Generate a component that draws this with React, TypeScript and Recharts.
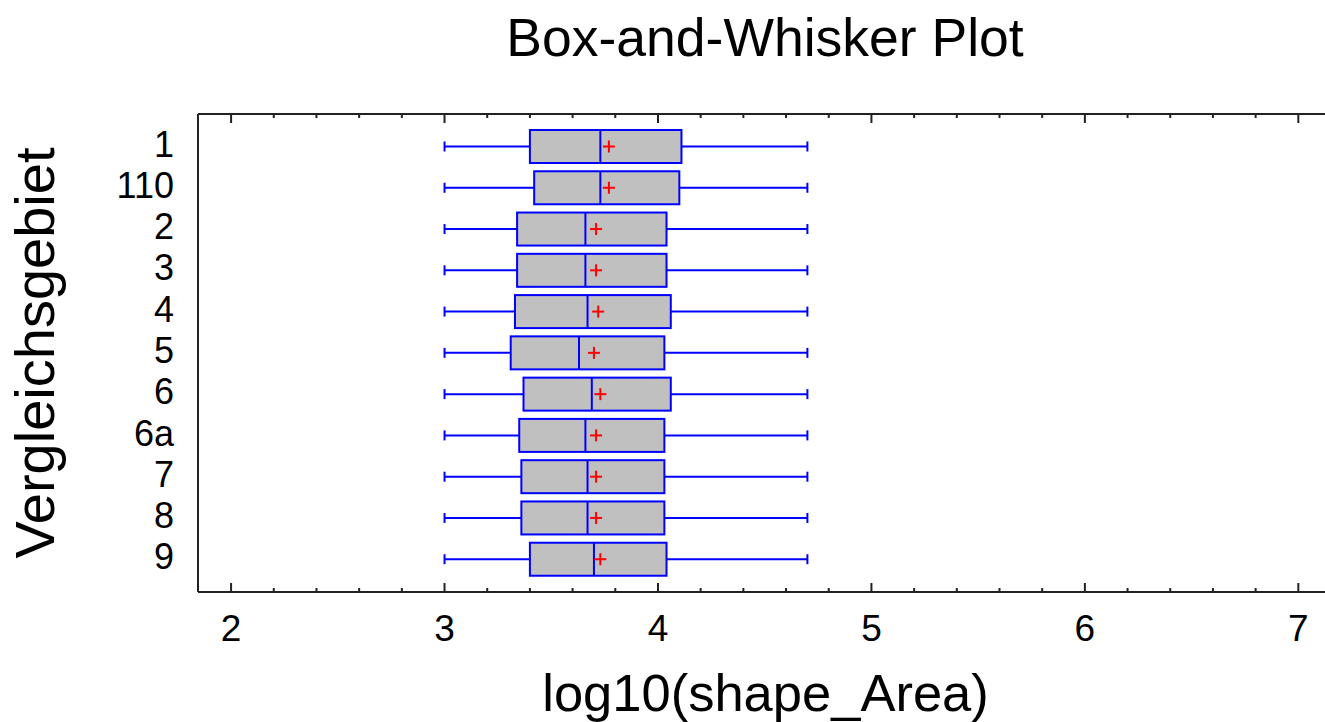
import React from "react";
import { Bar, BarChart, XAxis, YAxis } from "recharts";

// groups top to bottom
const groups = ["1", "110", "2", "3", "4", "5", "6", "6a", "7", "8", "9"];
const whiskerLow = [3.0, 3.0, 3.0, 3.0, 3.0, 3.0, 3.0, 3.0, 3.0, 3.0, 3.0];
const whiskerHigh = [4.7, 4.7, 4.7, 4.7, 4.7, 4.7, 4.7, 4.7, 4.7, 4.7, 4.7];
const q1 = [3.4, 3.42, 3.34, 3.34, 3.33, 3.31, 3.37, 3.35, 3.36, 3.36, 3.4];
const median = [3.73, 3.73, 3.66, 3.66, 3.67, 3.63, 3.69, 3.66, 3.67, 3.67, 3.7];
const q3 = [4.11, 4.1, 4.04, 4.04, 4.06, 4.03, 4.06, 4.03, 4.03, 4.03, 4.04];
const mean = [3.77, 3.77, 3.71, 3.71, 3.72, 3.7, 3.73, 3.71, 3.71, 3.71, 3.73];

const xTicks = [
  2, 2.2, 2.4, 2.6, 2.8, 3, 3.2, 3.4, 3.6, 3.8, 4, 4.2, 4.4, 4.6, 4.8, 5, 5.2,
  5.4, 5.6, 5.8, 6, 6.2, 6.4, 6.6, 6.8, 7,
];
const xDomain = [1.845, 7.125];

const data = groups.map((group, i) => ({
  group,
  lo: whiskerLow[i],
  hi: whiskerHigh[i],
  q1: q1[i],
  median: median[i],
  q3: q3[i],
  mean: mean[i],
}));

const FONT = "'Liberation Sans', Arial, sans-serif";
const FRAME = "#222";
const BLUE = "#0000ff";

const isMajor = (v: number) => Math.abs(v - Math.round(v)) < 1e-6;

function BottomTick({ x, y, payload }: any) {
  const v = payload.value as number;
  const major = isMajor(v);
  return (
    <g>
      <line x1={x} x2={x} y1={y} y2={y - (major ? 9 : 4)} stroke={FRAME} strokeWidth={2} />
      {major && (
        <text x={x} y={y + 49} textAnchor="middle" fontSize={37} fontFamily={FONT} fill="#000">
          {Math.round(v)}
        </text>
      )}
    </g>
  );
}

function TopTick({ x, y, payload }: any) {
  const major = isMajor(payload.value as number);
  return <line x1={x} x2={x} y1={y} y2={y + (major ? 9 : 4)} stroke={FRAME} strokeWidth={2} />;
}

function GroupTick({ x, y, payload }: any) {
  return (
    <text x={x} y={y + 10} textAnchor="end" fontSize={36} fontFamily={FONT} fill="#000">
      {payload.value}
    </text>
  );
}

// the bar spans the whiskers; box, median and mean are placed inside it linearly
function BoxWhisker(props: any) {
  const { x, y, width, height, payload } = props;
  const { lo, hi } = payload;
  const px = (v: number) => x + ((v - lo) / (hi - lo)) * width;
  const cy = y + height / 2;
  const cap = 5;
  const m = px(payload.mean);
  return (
    <g>
      <line x1={px(lo)} x2={px(payload.q1)} y1={cy} y2={cy} stroke={BLUE} strokeWidth={2} />
      <line x1={px(payload.q3)} x2={px(hi)} y1={cy} y2={cy} stroke={BLUE} strokeWidth={2} />
      <line x1={px(lo)} x2={px(lo)} y1={cy - cap} y2={cy + cap} stroke={BLUE} strokeWidth={2} />
      <line x1={px(hi)} x2={px(hi)} y1={cy - cap} y2={cy + cap} stroke={BLUE} strokeWidth={2} />
      <rect
        x={px(payload.q1)}
        y={y}
        width={px(payload.q3) - px(payload.q1)}
        height={height}
        fill="#c0c0c0"
        stroke={BLUE}
        strokeWidth={2}
      />
      <line
        x1={px(payload.median)}
        x2={px(payload.median)}
        y1={y}
        y2={y + height}
        stroke={BLUE}
        strokeWidth={2}
      />
      <line x1={m - 6} x2={m + 6} y1={cy} y2={cy} stroke="#ff0000" strokeWidth={2} />
      <line x1={m} x2={m} y1={cy - 6} y2={cy + 6} stroke="#ff0000" strokeWidth={2} />
    </g>
  );
}

export default function App() {
  return (
    <div style={{ position: "absolute", left: 0, top: 0, width: 1325, height: 722, background: "#fff" }}>
      <div
        style={{
          position: "absolute",
          left: 765,
          top: 11,
          transform: "translateX(-50%)",
          fontFamily: FONT,
          fontSize: 53.5,
          lineHeight: "54px",
          whiteSpace: "nowrap",
          color: "#000",
        }}
      >
        Box-and-Whisker Plot
      </div>
      <BarChart
        width={1325}
        height={722}
        data={data}
        layout="vertical"
        margin={{ top: 110, right: 0, left: 0, bottom: 0 }}
      >
        <XAxis
          xAxisId="top"
          orientation="top"
          type="number"
          domain={xDomain}
          ticks={xTicks}
          interval={0}
          allowDataOverflow
          height={4}
          tickLine={false}
          tickSize={0}
          tickMargin={0}
          axisLine={{ stroke: FRAME, strokeWidth: 2 }}
          tick={<TopTick />}
        />
        <XAxis
          type="number"
          domain={xDomain}
          ticks={xTicks}
          interval={0}
          allowDataOverflow
          height={130}
          tickLine={false}
          tickSize={0}
          tickMargin={0}
          axisLine={{ stroke: FRAME, strokeWidth: 2 }}
          tick={<BottomTick />}
          label={{
            value: "log10(shape_Area)",
            position: "insideBottom",
            offset: 11,
            dx: 4,
            style: { fontSize: 52.5, fontFamily: FONT, fill: "#000" },
          }}
        />
        <YAxis
          type="category"
          dataKey="group"
          width={198}
          interval={0}
          padding={{ top: 12, bottom: 12 }}
          tickLine={false}
          tickSize={0}
          tickMargin={24}
          axisLine={{ stroke: FRAME, strokeWidth: 2 }}
          tick={<GroupTick />}
          label={{
            value: "Vergleichsgebiet",
            angle: -90,
            position: "insideLeft",
            offset: 34,
            style: { textAnchor: "middle", fontSize: 56, fontFamily: FONT, fill: "#000" },
          }}
        />
        <Bar
          dataKey={(d: any) => [d.lo, d.hi]}
          barSize={33}
          shape={<BoxWhisker />}
          isAnimationActive={false}
        />
      </BarChart>
    </div>
  );
}
